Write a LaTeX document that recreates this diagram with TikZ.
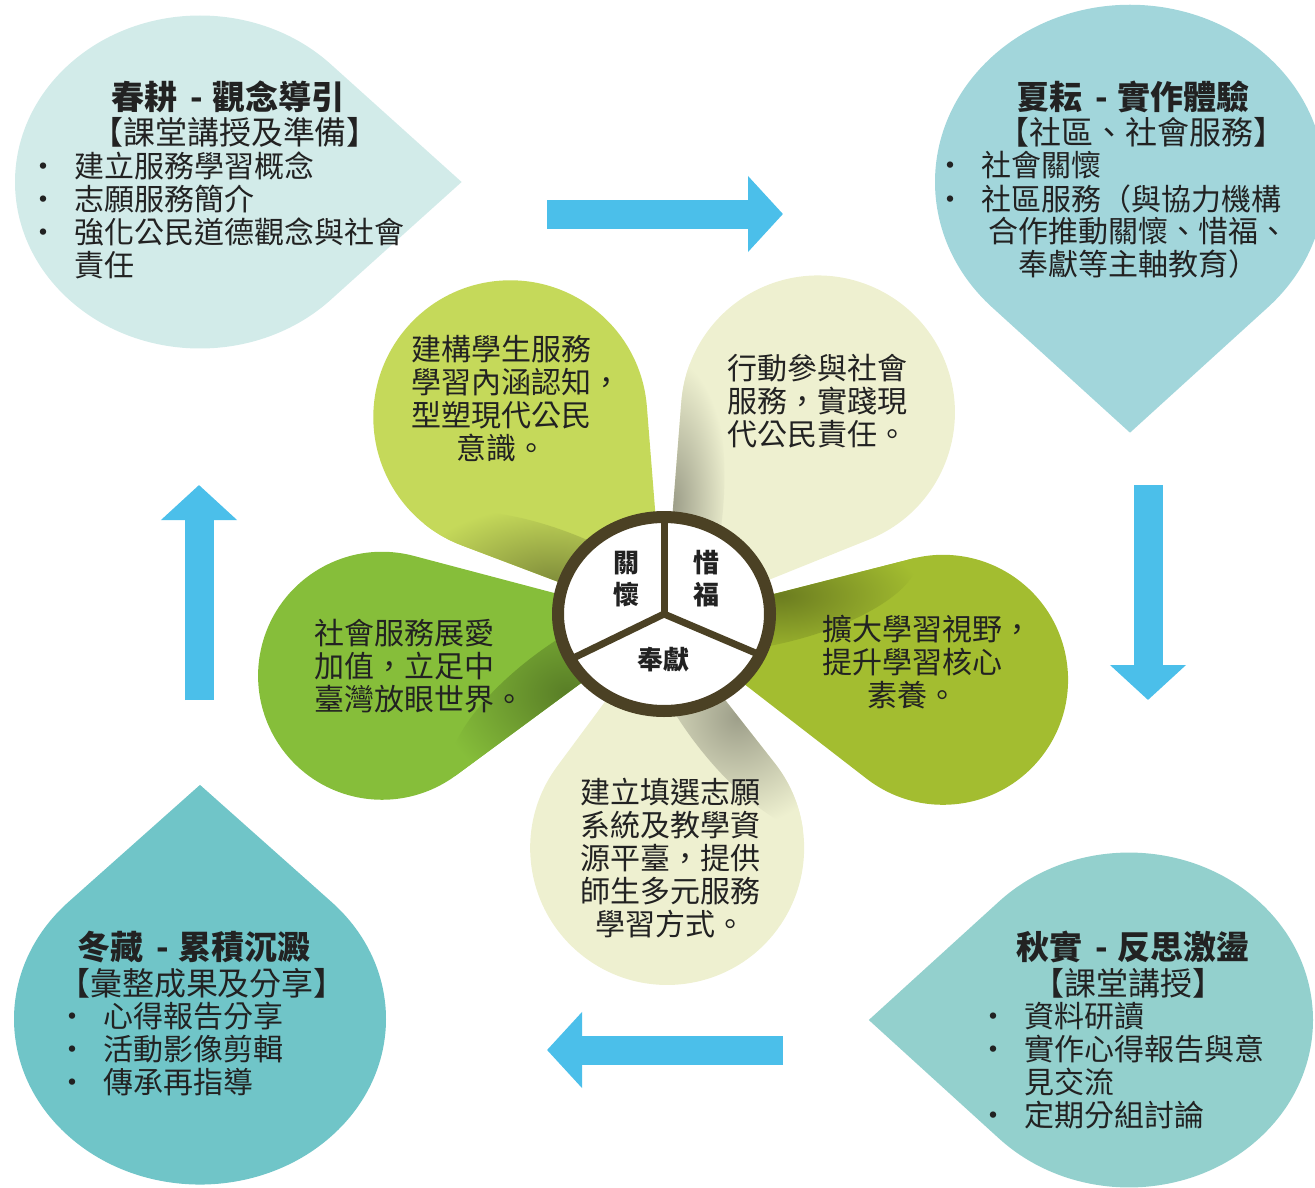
\documentclass[tikz,border=0pt]{standalone}
\usepackage{fontspec}
\setmainfont{Noto Sans CJK TC}
\usetikzlibrary{arrows.meta}

\definecolor{springteal}{HTML}{D2EBE9}
\definecolor{summerteal}{HTML}{A2D6DB}
\definecolor{autumnteal}{HTML}{93D0CD}
\definecolor{winterteal}{HTML}{70C5C8}
\definecolor{flowblue}{HTML}{4BBFEA}
\definecolor{limepetal}{HTML}{C5D95A}
\definecolor{creampetal}{HTML}{EEF0D0}
\definecolor{olivepetal}{HTML}{A3BD30}
\definecolor{grasspetal}{HTML}{86BE3A}
\definecolor{hubbrown}{HTML}{4B4124}
\definecolor{inkgray}{HTML}{222222}

\newcommand{\bul}{\makebox[46pt][l]{•}}
\newcommand{\nobul}{\hspace*{46pt}}
\newcommand{\dash}{\hspace{13pt}-\hspace{10pt}}

% season drop: centre, radius, yscale, tip angle, colour
\newcommand{\bigdrop}[5]{%
  \begin{scope}[shift={(#1)},yscale=#3]
    \fill[#5] (#4:#2*1.4142) -- (#4+45:#2)
      arc[start angle=#4+45, end angle=#4+315, radius=#2] -- cycle;
  \end{scope}}

% flower petal: angle, distance, radius, colour
\newcommand{\petal}[4]{%
  \pgfmathsetmacro{\petaltilt}{asin(#3/#2)}
  \pgfmathsetmacro{\petalside}{90+\petaltilt}
  \begin{scope}[shift={(flower)},rotate=#1]
    \fill[#4] (0,0) -- ([shift={(#2,0)}]\petalside:#3)
      arc[start angle=\petalside, end angle=-\petalside, radius=#3] -- cycle;
    \begin{scope}
      \clip (0,0) -- ([shift={(#2,0)}]\petalside:#3)
        arc[start angle=\petalside, end angle=-\petalside, radius=#3] -- cycle;
      % curl shadow along one edge
      \begin{scope}[rotate=\petaltilt]
        \shade[inner color=#4!66!black, outer color=#4] (120,0) ellipse[x radius=140, y radius=50];
      \end{scope}
    \end{scope}
  \end{scope}}

\tikzset{
  seasontitle/.style={font=\fontsize{33}{36}\selectfont\bfseries, inner sep=0pt, text=inkgray},
  seasonsub/.style={font=\fontsize{32}{33}\selectfont, inner sep=0pt, text=inkgray},
  seasonlist/.style={font=\fontsize{30}{33}\selectfont, inner sep=0pt, align=left,
    anchor=base west, text=inkgray},
  petaltext/.style={font=\fontsize{30}{33}\selectfont, inner sep=0pt, align=center, text=inkgray},
  hubtext/.style={font=\fontsize{26}{32}\selectfont\bfseries, inner sep=0pt, align=center, text=inkgray},
  cyclearrow/.style={flowblue, line width=29pt, -{Triangle[width=74pt,length=35pt]}},
}

\begin{document}
\begin{tikzpicture}[x=1pt,y=-1pt]
  \useasboundingbox (0,0) rectangle (1315,1188);

  % four seasons
  \bigdrop{200,182}{185}{0.9}{0}{springteal}
  \bigdrop{1130,182}{195}{0.909}{90}{summerteal}
  \bigdrop{1129,1020}{184}{0.91}{180}{autumnteal}
  \bigdrop{200,1019}{186}{0.89}{270}{winterteal}

  % arrows between seasons
  \coordinate (springtail) at (547,214);
  \coordinate (springhead) at (783,214);
  \coordinate (summertail) at (1148,485);
  \coordinate (summerhead) at (1148,700);
  \coordinate (autumntail) at (783,1050);
  \coordinate (autumnhead) at (547,1050);
  \coordinate (wintertail) at (199,700);
  \coordinate (winterhead) at (199,485);
  \draw[cyclearrow] (springtail) -- (springhead);
  \draw[cyclearrow] (summertail) -- (summerhead);
  \draw[cyclearrow] (autumntail) -- (autumnhead);
  \draw[cyclearrow] (wintertail) -- (winterhead);

  % flower
  \coordinate (flower) at (664,622);
  \petal{126.9}{256}{137}{limepetal}
  \petal{53.7}{260}{137}{creampetal}
  \petal{-11.7}{285}{125}{olivepetal}
  \petal{-89.2}{226}{137}{creampetal}
  \petal{190.8}{287}{124}{grasspetal}

  \coordinate (hub) at (664,614);
  \fill[white] (hub) ellipse[x radius=106, y radius=97];
  \draw[hubbrown, line width=12pt] (hub) ellipse[x radius=106, y radius=97];
  \coordinate (forkup) at ([shift={(hub)}]270:104 and 95);
  \coordinate (forkleft) at ([shift={(hub)}]152:104 and 95);
  \coordinate (forkright) at ([shift={(hub)}]25:104 and 95);
  \draw[hubbrown, line width=7pt] (hub) -- (forkup);
  \draw[hubbrown, line width=7pt, line join=round] (forkleft) -- (hub) -- (forkright);
  \node[hubtext] (care) at (626,579) {關\\懷};
  \node[hubtext] (cherish) at (706,579) {惜\\福};
  \node[hubtext] (devote) at (663,660) {奉獻};

  % petal texts
  \node[petaltext] (civic) at (501,399) {建構學生服務\\學習內涵認知\rlap{，}\\型塑現代公民\\意識。};
  \node[petaltext, align=left] (action) at (817,401) {行動參與社會\\服務，實踐現\\代公民責任。};
  \node[petaltext] (vision) at (912,662) {擴大學習視野\rlap{，}\\提升學習核心\\素養。};
  \node[petaltext] (platform) at (670,858) {建立填選志願\\系統及教學資\\源平臺，提供\\師生多元服務\\學習方式。};
  \node[petaltext, align=left, anchor=west] (world) at (314,666) {社會服務展愛\\加值，立足中\\臺灣放眼世界。};

  % spring
  \node[seasontitle] (spring) at (228,97) {春耕\dash 觀念導引};
  \node[seasonsub] (springsub) at (235,132) {【課堂講授及準備】};
  \node[seasonlist] (springlist) at (28,276) {\bul 建立服務學習概念\\ \bul 志願服務簡介\\
    \bul 強化公民道德觀念與社會\\ \nobul 責任};

  % summer
  \node[seasontitle] (summer) at (1133,97) {夏耘\dash 實作體驗};
  \node[seasonsub] (summersub) at (1141,132) {【社區、社會服務】};
  \node[seasonlist] (summerlist) at (935,210) {\bul 社會關懷\\ \bul 社區服務（與協力機構};
  \node[petaltext] (summerrest) at (1138,248) {合作推動關懷、惜福、\\奉獻等主軸教育）};

  % autumn
  \node[seasontitle] (autumn) at (1133,947) {秋實\dash 反思激盪};
  \node[seasonsub] (autumnsub) at (1128,983) {【課堂講授】};
  \node[seasonlist] (autumnlist) at (978,1126) {\bul 資料研讀\\ \bul 實作心得報告與意\\
    \nobul 見交流\\ \bul 定期分組討論};

  % winter
  \node[seasontitle] (winter) at (194,947) {冬藏\dash 累積沉澱};
  \node[seasonsub] (wintersub) at (202,983) {【彙整成果及分享】};
  \node[seasonlist] (winterlist) at (57,1093) {\bul 心得報告分享\\ \bul 活動影像剪輯\\ \bul 傳承再指導};
\end{tikzpicture}
\end{document}
